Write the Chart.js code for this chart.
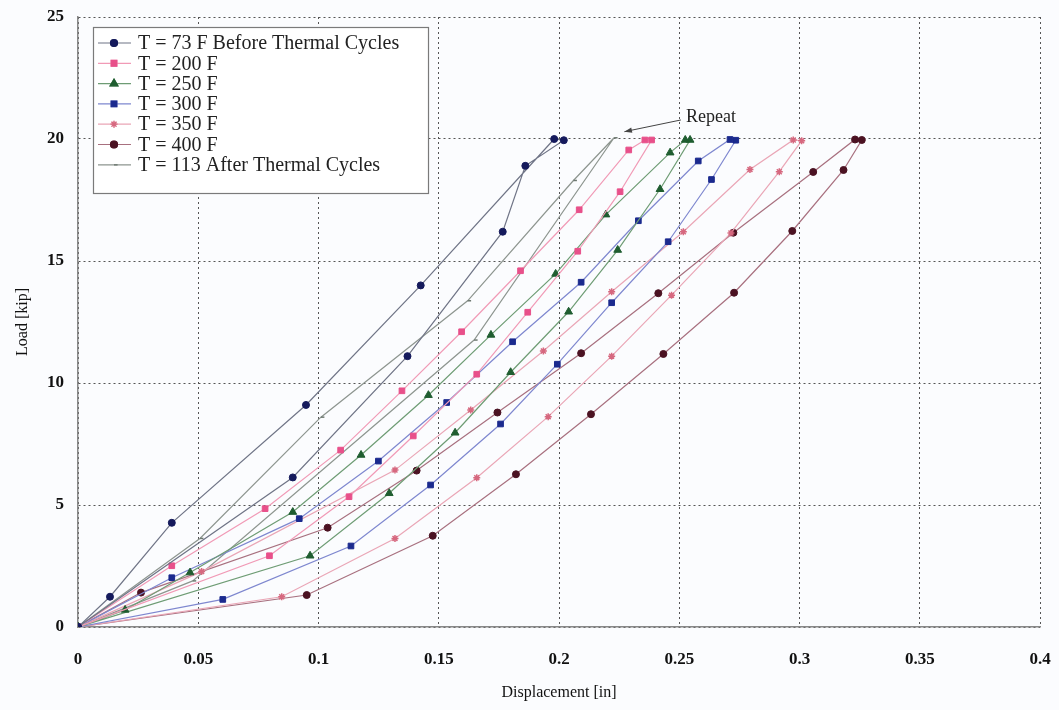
<!DOCTYPE html>
<html>
<head>
<meta charset="utf-8">
<script src="https://cdn.jsdelivr.net/npm/chart.js@4/dist/chart.umd.min.js"></script>
<style>
  html, body { margin: 0; padding: 0; background: #fbfcfe; }
  #wrap { width: 1059px; height: 710px; }
</style>
</head>
<body>
<div id="wrap"><canvas id="loadChart" width="1059" height="710"></canvas></div>
<script>
// legend names
const seriesNames = [
  "T = 73 F Before Thermal Cycles",
  "T = 200 F",
  "T = 250 F",
  "T = 300 F",
  "T = 350 F",
  "T = 400 F",
  "T = 113 After Thermal Cycles"
];

// each loop: origin -> loading branch -> peak -> unloading branch -> origin
const t73Disp = [0, 0.0893, 0.137, 0.1766, 0.186, 0.202, 0.198, 0.1425, 0.0948, 0.039, 0.0133, 0];
const t73Load = [0, 6.13, 11.1, 16.2, 18.9, 19.95, 20.0, 14.0, 9.1, 4.27, 1.24, 0];

const t200Disp = [0, 0.0796, 0.1127, 0.1394, 0.1658, 0.187, 0.2078, 0.2254, 0.2385, 0.2357, 0.229, 0.2084, 0.184, 0.1595, 0.1347, 0.1092, 0.0778, 0.039, 0];
const t200Load = [0, 2.92, 5.34, 7.83, 10.36, 12.9, 15.4, 17.84, 19.96, 19.96, 19.55, 17.1, 14.6, 12.1, 9.68, 7.25, 4.85, 2.51, 0];

const t250Disp = [0, 0.0965, 0.1294, 0.1568, 0.1799, 0.204, 0.2244, 0.242, 0.2545, 0.2525, 0.2462, 0.2195, 0.1986, 0.1717, 0.1457, 0.1177, 0.0893, 0.0466, 0.0196, 0];
const t250Load = [0, 2.92, 5.48, 7.96, 10.44, 12.92, 15.45, 17.94, 19.96, 19.96, 19.44, 16.9, 14.47, 11.97, 9.5, 7.05, 4.71, 2.23, 0.7, 0];

const t300Disp = [0, 0.0602, 0.1135, 0.1466, 0.1757, 0.1993, 0.2219, 0.2454, 0.2634, 0.2735, 0.2711, 0.2579, 0.233, 0.2092, 0.1807, 0.1533, 0.1249, 0.092, 0.039, 0];
const t300Load = [0, 1.13, 3.32, 5.82, 8.32, 10.77, 13.29, 15.79, 18.34, 19.95, 19.98, 19.1, 16.65, 14.13, 11.69, 9.2, 6.8, 4.44, 2.02, 0];

const t350Disp = [0, 0.0847, 0.1318, 0.1658, 0.1955, 0.2219, 0.2468, 0.2715, 0.2916, 0.3009, 0.2974, 0.2794, 0.2517, 0.2219, 0.1935, 0.1633, 0.1318, 0.0514, 0];
const t350Load = [0, 1.24, 3.63, 6.12, 8.62, 11.1, 13.6, 16.15, 18.66, 19.93, 19.96, 18.75, 16.2, 13.74, 11.31, 8.89, 6.43, 2.27, 0];

const t400Disp = [0, 0.0951, 0.1475, 0.1821, 0.2133, 0.2434, 0.2728, 0.297, 0.3183, 0.3259, 0.3231, 0.3057, 0.2725, 0.2413, 0.2092, 0.1744, 0.1408, 0.1038, 0.0262, 0];
const t400Load = [0, 1.31, 3.74, 6.26, 8.72, 11.19, 13.7, 16.23, 18.73, 19.96, 19.98, 18.65, 16.16, 13.68, 11.22, 8.79, 6.41, 4.07, 1.41, 0];

const t113Disp = [0, 0.0477, 0.1647, 0.2229, 0.206, 0.162, 0.101, 0.0507, 0];
const t113Load = [0, 1.89, 11.76, 20.05, 18.3, 13.37, 8.6, 3.63, 0];

const allDisp = [t73Disp, t200Disp, t250Disp, t300Disp, t350Disp, t400Disp, t113Disp];
const allLoad = [t73Load, t200Load, t250Load, t300Load, t350Load, t400Load, t113Load];

// styling per series
const lineColors = ["#6f7486", "#f19ab6", "#6e9c74", "#7e87cf", "#eaa6b6", "#a8707f", "#8d958f"];
const markerColors = ["#151a5c", "#e8508a", "#1f5d30", "#1b2a8e", "#d6687f", "#4b1222", "#6f7a72"];
const markerStyles = ["circle", "rect", "triangle", "rect", "star", "circle", "dash"];
const markerSizes = [3.5, 4, 4.5, 4, 3.5, 3.5, 3.5];

const serif = "'Liberation Serif', 'DejaVu Serif', serif";

const datasets = seriesNames.map((name, i) => ({
  label: name,
  data: allDisp[i].map((x, k) => ({ x: x, y: allLoad[i][k] })),
  showLine: true,
  borderColor: lineColors[i],
  borderWidth: 1.2,
  backgroundColor: markerColors[i],
  pointBorderColor: markerColors[i],
  pointBackgroundColor: markerColors[i],
  pointStyle: markerStyles[i],
  pointRadius: markerSizes[i],
  pointBorderWidth: markerStyles[i] === "star" || markerStyles[i] === "dash" ? 1.5 : 1,
  tension: 0
}));

// boxed legend inside the plot, top-left
const boxLegend = {
  id: "boxLegend",
  afterDraw(chart) {
    const ctx = chart.ctx;
    const left = 93, top = 27, w = 335, h = 166;
    ctx.save();
    ctx.fillStyle = "#ffffff";
    ctx.fillRect(left, top, w, h);
    ctx.strokeStyle = "#7a7a7a";
    ctx.lineWidth = 1.2;
    ctx.strokeRect(left + 0.5, top + 0.5, w, h);
    ctx.font = "20px " + serif;
    ctx.textBaseline = "middle";
    seriesNames.forEach((name, i) => {
      const y = 43 + i * 20.3;
      ctx.strokeStyle = lineColors[i];
      ctx.lineWidth = 1.2;
      ctx.beginPath();
      ctx.moveTo(98, y);
      ctx.lineTo(131, y);
      ctx.stroke();
      Chart.helpers.drawPoint(ctx, {
        pointStyle: markerStyles[i],
        radius: markerSizes[i],
        borderWidth: 1
      }, 114, y);
      ctx.fillStyle = markerColors[i];
      ctx.strokeStyle = markerColors[i];
      ctx.fill();
      ctx.stroke();
      ctx.fillStyle = "#222";
      ctx.fillText(name, 138, y + 1);
    });
    ctx.restore();
  }
};

// "Repeat" note with arrow, placed in data units
const repeatNote = {
  id: "repeatNote",
  afterDatasetsDraw(chart) {
    const { ctx, scales: { x, y } } = chart;
    const x0 = x.getPixelForValue(0.2507), y0 = y.getPixelForValue(20.78);
    const x1 = x.getPixelForValue(0.2272), y1 = y.getPixelForValue(20.3);
    ctx.save();
    ctx.strokeStyle = "#444";
    ctx.fillStyle = "#444";
    ctx.lineWidth = 1;
    ctx.beginPath();
    ctx.moveTo(x0, y0);
    ctx.lineTo(x1, y1);
    ctx.stroke();
    const a = Math.atan2(y1 - y0, x1 - x0);
    ctx.beginPath();
    ctx.moveTo(x1, y1);
    ctx.lineTo(x1 - 8 * Math.cos(a - 0.35), y1 - 8 * Math.sin(a - 0.35));
    ctx.lineTo(x1 - 8 * Math.cos(a + 0.35), y1 - 8 * Math.sin(a + 0.35));
    ctx.closePath();
    ctx.fill();
    ctx.fillStyle = "#222";
    ctx.font = "18px " + serif;
    ctx.textBaseline = "middle";
    ctx.fillText("Repeat", x.getPixelForValue(0.2528), y.getPixelForValue(20.9));
    ctx.restore();
  }
};

const pageBg = {
  id: "pageBg",
  beforeDraw(chart) {
    const ctx = chart.ctx;
    ctx.save();
    ctx.fillStyle = "#fbfcfe";
    ctx.fillRect(0, 0, chart.width, chart.height);
    ctx.restore();
  }
};

new Chart("loadChart", {
  type: "scatter",
  data: { datasets: datasets },
  options: {
    responsive: false,
    animation: false,
    layout: { padding: { top: 17, right: 19, left: 0, bottom: 0 } },
    plugins: { legend: { display: false }, tooltip: { enabled: false } },
    scales: {
      x: {
        type: "linear",
        min: 0,
        max: 0.4,
        afterFit: (s) => {
          s.height = 83;
          s.paddingLeft = 0;
          s.paddingRight = 0;
        },
        ticks: {
          stepSize: 0.05,
          padding: 22,
          color: "#111",
          font: { family: serif, size: 17, weight: "bold" },
          callback: (v) => String(+v.toFixed(2))
        },
        grid: { color: "#555", lineWidth: 1, drawTicks: false },
        border: { display: true, color: "#888", width: 1.5, dash: [2, 3] },
        title: {
          display: true,
          text: "Displacement [in]",
          color: "#111",
          font: { family: serif, size: 16 },
          padding: { top: 0, bottom: 8 }
        }
      },
      y: {
        type: "linear",
        min: 0,
        max: 25,
        afterFit: (s) => {
          s.width = 78;
          s.paddingTop = 0;
          s.paddingBottom = 0;
        },
        ticks: {
          stepSize: 5,
          padding: 14,
          color: "#111",
          font: { family: serif, size: 17, weight: "bold" }
        },
        grid: { color: "#555", lineWidth: 1, drawTicks: false },
        border: { display: true, color: "#888", width: 1.5, dash: [2, 3] },
        title: {
          display: true,
          text: "Load [kip]",
          color: "#111",
          font: { family: serif, size: 16 },
          padding: { top: 13, bottom: 0 }
        }
      }
    }
  },
  plugins: [pageBg, repeatNote, boxLegend]
});
</script>
</body>
</html>
